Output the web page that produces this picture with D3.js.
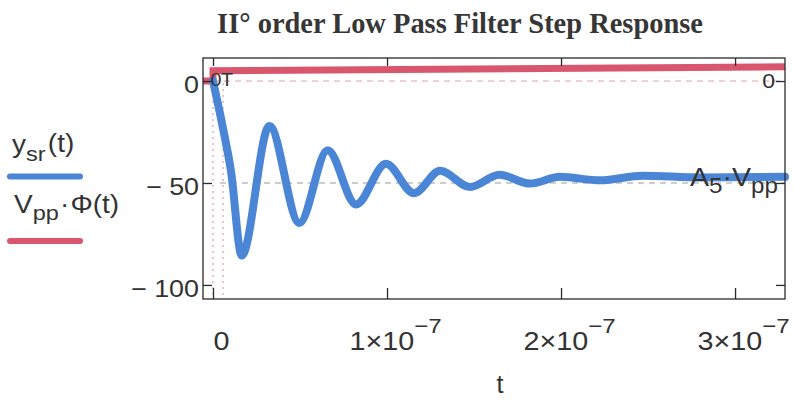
<!DOCTYPE html>
<html><head><meta charset="utf-8">
<script src="https://cdn.jsdelivr.net/npm/d3@7"></script>
<style>body{margin:0;background:#fff}svg{display:block}</style>
</head><body>
<svg id="c" width="793" height="401"></svg>
<script>
// ---- data (t in units of 1e-7 s) ----
const tBlue = [0, 0.057, 0.103, 0.165, 0.324, 0.496, 0.659, 0.822, 0.994, 1.155, 1.305, 1.477, 1.646, 1.822, 1.994, 2.224, 2.471, 2.8, 3.287];
const yBlue = [0, -23, -44, -85.6, -22, -69.6, -34, -60.5, -40.6, -55, -44, -52, -46, -50.3, -47, -48.7, -46.4, -47.3, -47];
const tRed = [-0.0575, 0, 0, 3.287];
const yRed = [0, 0, 5, 7];
const xTicks = [0, 1, 2, 3];
const xTickMant = ["0", "1×10", "2×10", "3×10"];
const xTickExp = ["", "−7", "−7", "−7"];
const yTicks = [0, -50, -100];
const yTickLabels = ["0", "− 50", "− 100"];
const markerT = [0, 0.0575];      // dotted verticals at 0 and T
const markerLabels = ["0", "T"];
const xDomain = [-0.0575, 3.287];
const yDomain = [11.3, -106.9];

const svg = d3.select("#c");
const L = 203, R = 785, T = 58, B = 299;
const blue = "#4a85d6", red = "#d9566f", ink = "#2a2a2a";
const sans = "'Liberation Sans', Arial, sans-serif";

// horizontal stretch of text about its anchor x (scan is slightly wide)
function stretch(sel, sx) {
  sel.each(function () {
    const e = d3.select(this);
    const x0 = +e.attr("x") || 0;
    e.attr("transform", `translate(${x0},0) scale(${sx},1) translate(${-x0},0)`);
  });
}

const x = d3.scaleLinear().domain(xDomain).range([L, R]);
const y = d3.scaleLinear().domain(yDomain).range([T, B]);

// title
const title = svg.append("text").attr("x", 460).attr("y", 33).attr("text-anchor", "middle")
  .attr("font-family", "'Liberation Serif', 'Times New Roman', serif").attr("font-weight", "bold")
  .attr("font-size", 29).attr("fill", "#363636").text("II° order Low Pass Filter Step Response");
const tw = title.node().getComputedTextLength();
title.attr("font-size", 29 * 486 / tw);

// reference lines
svg.append("line").attr("x1", x(0)).attr("x2", R).attr("y1", y(0)).attr("y2", y(0))
  .attr("stroke", "#d7a3ad").attr("stroke-width", 1).attr("stroke-dasharray", "6,5");
svg.append("line").attr("x1", x(0.04)).attr("x2", R).attr("y1", y(-50)).attr("y2", y(-50))
  .attr("stroke", "#9a9a9a").attr("stroke-width", 1).attr("stroke-dasharray", "6,5");
markerT.forEach(t => {
  svg.append("line").attr("x1", x(t)).attr("x2", x(t)).attr("y1", y(0) + 2).attr("y2", B)
    .attr("stroke", "#e0a6b6").attr("stroke-width", 1.3).attr("stroke-dasharray", "2,4");
});

// red step
const redLine = d3.line().x((d, i) => x(tRed[i])).y((d, i) => y(yRed[i]));
svg.append("path").attr("d", redLine(yRed)).attr("fill", "none").attr("stroke", red)
  .attr("stroke-width", 7);

// blue response
const blueLine = d3.line().x((d, i) => x(tBlue[i])).y((d, i) => y(yBlue[i])).curve(d3.curveMonotoneX);
svg.append("path").attr("d", blueLine(yBlue)).attr("fill", "none").attr("stroke", blue)
  .attr("stroke-width", 8).attr("stroke-linecap", "round").attr("stroke-linejoin", "round");

// frame
svg.append("rect").attr("x", L).attr("y", T).attr("width", R - L).attr("height", B - T)
  .attr("fill", "none").attr("stroke", ink).attr("stroke-width", 1.3);

// axes
const gB = svg.append("g").attr("transform", `translate(0,${B})`)
  .call(d3.axisBottom(x).tickValues(xTicks).tickSizeInner(-11).tickSizeOuter(0).tickPadding(0).tickFormat(""));
const gT = svg.append("g").attr("transform", `translate(0,${T})`)
  .call(d3.axisTop(x).tickValues(xTicks).tickSizeInner(-8).tickSizeOuter(0).tickFormat(""));
const gL = svg.append("g").attr("transform", `translate(${L},0)`)
  .call(d3.axisLeft(y).tickValues(yTicks).tickSizeInner(-9).tickSizeOuter(0).tickPadding(4)
    .tickFormat((d, i) => yTickLabels[i]));
const gR = svg.append("g").attr("transform", `translate(${R},0)`)
  .call(d3.axisRight(y).tickValues(yTicks).tickSizeInner(-9).tickSizeOuter(0).tickFormat(""));
[gB, gT, gL, gR].forEach(g => {
  g.select(".domain").remove();
  g.selectAll(".tick line").attr("stroke", ink).attr("stroke-width", 1.3);
});
gL.selectAll(".tick text").attr("font-family", sans).attr("font-size", 24).attr("fill", "#333")
  .attr("dy", "0.48em").attr("x", -4);
stretch(gL.selectAll(".tick text"), 1.12);

// bottom tick labels with superscripts
gB.selectAll(".tick").each(function (d, i) {
  const t = d3.select(this).append("text").attr("x", 8).attr("y", 51).attr("text-anchor", "middle")
    .attr("font-family", sans).attr("font-size", 25).attr("fill", "#333");
  t.append("tspan").text(xTickMant[i]);
  if (xTickExp[i]) t.append("tspan").attr("dy", -17).attr("font-size", 21).text(xTickExp[i]);
  stretch(t, 1.15);
});

// x axis label
svg.append("text").attr("x", 500).attr("y", 393).attr("text-anchor", "middle")
  .attr("font-family", sans).attr("font-size", 25).attr("fill", "#333").text("t");

// marker labels 0 and T
markerT.forEach((t, i) => {
  const m = svg.append("text").attr("x", x(t) + 3 + i).attr("y", y(0) + 5).attr("text-anchor", "middle")
    .attr("font-family", sans).attr("font-size", 18).attr("fill", "#333").text(markerLabels[i]);
  stretch(m, 1.1);
});

// right-side labels
const r0 = svg.append("text").attr("x", R - 10).attr("y", y(0) + 7).attr("text-anchor", "end")
  .attr("font-family", sans).attr("font-size", 21).attr("fill", "#333").text("0");
stretch(r0, 1.1);
const a5 = svg.append("text").attr("x", R - 7).attr("y", 186).attr("text-anchor", "end")
  .attr("font-family", sans).attr("font-size", 26).attr("fill", "#333");
a5.append("tspan").text("A");
a5.append("tspan").attr("dy", 7).attr("font-size", 22).text("5");
a5.append("tspan").attr("dy", -7).text("·V");
a5.append("tspan").attr("dy", 7).attr("font-size", 22).text("pp");
stretch(a5, 1.1);

// legend
const lg = svg.append("g").attr("font-family", sans).attr("fill", "#333");
const l1 = lg.append("text").attr("x", 12).attr("y", 153).attr("font-size", 25);
l1.append("tspan").text("y");
l1.append("tspan").attr("dy", 8).attr("font-size", 21).text("sr");
l1.append("tspan").attr("dy", -9).attr("dx", 2).text("(t)");
stretch(l1, 1.12);
lg.append("line").attr("x1", 10).attr("x2", 80).attr("y1", 176.5).attr("y2", 176.5)
  .attr("stroke", blue).attr("stroke-width", 6).attr("stroke-linecap", "round");
const l2 = lg.append("text").attr("x", 14).attr("y", 213).attr("font-size", 25);
l2.append("tspan").text("V");
l2.append("tspan").attr("dy", 7).attr("font-size", 21).text("pp");
l2.append("tspan").attr("dy", -7).attr("dx", 1).text("·");
l2.append("tspan").attr("dx", 1).text("Φ(t)");
stretch(l2, 1.12);
lg.append("line").attr("x1", 10).attr("x2", 80).attr("y1", 241).attr("y2", 241)
  .attr("stroke", red).attr("stroke-width", 6).attr("stroke-linecap", "round");
</script>
</body></html>
